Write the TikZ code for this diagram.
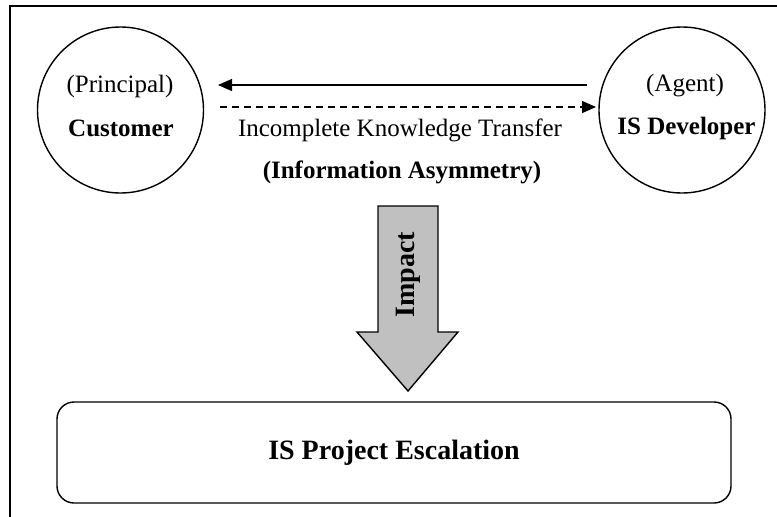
\documentclass[tikz,border=0pt]{standalone}
\usepackage{fontspec}
\setmainfont{Liberation Serif}
\usetikzlibrary{arrows.meta}
\tikzset{
  party/.style={circle, draw, line width=1.4pt, minimum size=166pt, inner sep=0pt},
  lbl/.style={inner sep=0pt, font=\fontsize{25}{30}\selectfont},
  blbl/.style={inner sep=0pt, font=\fontsize{25}{30}\selectfont\bfseries},
  bigbold/.style={inner sep=0pt, font=\fontsize{28}{33}\selectfont\bfseries},
  flow/.style={line width=1.4pt, -{Triangle[length=14pt,width=12pt]}},
  outcome/.style={draw, line width=1.4pt, rounded corners=17pt, minimum width=674pt, minimum height=101pt, inner sep=0pt}
}
\begin{document}
\begin{tikzpicture}[x=1pt,y=-1pt]
\useasboundingbox (0,0) rectangle (777,517);
% open frame: top and left edges
\draw[line width=1.4pt] (777,6) -- (10,6) -- (10,517);

% the two parties
\node[party] (cust) at (120.5,110) {};
\node[party] (dev) at (682,110) {};
\node[lbl] (princ) at (120,86) {(Principal)};
\node[blbl] (custname) at (121,128) {Customer};
\node[lbl] (agent) at (685,86) {(Agent)};
\node[blbl] (devname) at (686.5,128) {IS Developer};

% exchange between them
\coordinate (sR) at (587,85);
\coordinate (sL) at (218,85);
\coordinate (dL) at (220,107);
\coordinate (dR) at (596,107);
\draw[flow] (sR) -- (sL);
\draw[flow, dash pattern=on 7pt off 5pt] (dL) -- (dR);
\node[lbl] (ikt) at (400,130) {Incomplete Knowledge Transfer};
\node[blbl] (asym) at (402,172) {(Information Asymmetry)};

% impact block arrow
\draw[line width=1.4pt, fill={rgb,255:red,192;green,192;blue,192}]
  (378,206) -- (438,206) -- (438,332) -- (458,332) -- (408,391)
  -- (357,332) -- (378,332) -- cycle;
\node[bigbold, rotate=90] (impact) at (408,275) {Impact};

% outcome
\node[outcome, bigbold] (esc) at (394,452.5) {IS Project Escalation};
\end{tikzpicture}
\end{document}
